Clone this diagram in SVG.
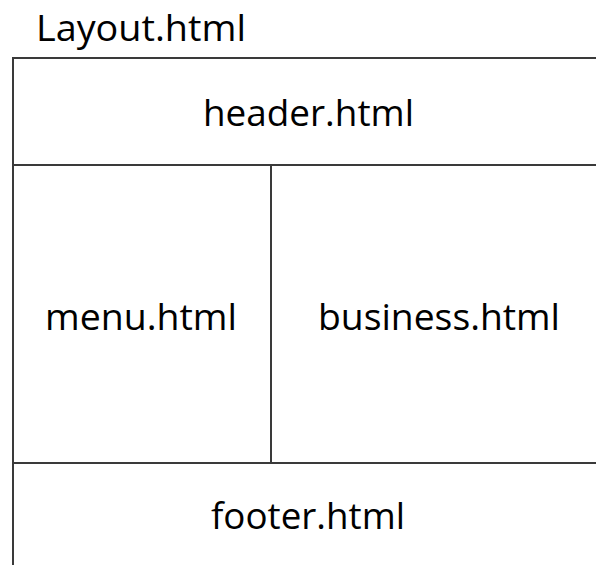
<svg xmlns="http://www.w3.org/2000/svg" width="596" height="565" viewBox="0 0 596 565">
<style>
.t{font-family:"Open Sans","Liberation Sans",sans-serif;font-size:37px;fill:#000}
.ln{stroke:#3a3a3a;stroke-width:2;fill:none}
</style>
<rect width="596" height="565" fill="#fff"/>
<g id="layout-title"><text class="t" x="36" y="41" textLength="210" lengthAdjust="spacingAndGlyphs">Layout.html</text></g>
<g id="connectors">
<path class="ln" d="M596 58 H13 V565"/>
<path class="ln" d="M13 165 H596"/>
<path class="ln" d="M271 165 V463"/>
<path class="ln" d="M13 463 H596"/>
</g>
<g id="header"><text class="t" x="203" y="126" textLength="211" lengthAdjust="spacingAndGlyphs">header.html</text></g>
<g id="menu"><text class="t" x="45" y="330" textLength="192" lengthAdjust="spacingAndGlyphs">menu.html</text></g>
<g id="business"><text class="t" x="318" y="330" textLength="242" lengthAdjust="spacingAndGlyphs">business.html</text></g>
<g id="footer"><text class="t" x="211" y="529" textLength="194" lengthAdjust="spacingAndGlyphs">footer.html</text></g>
</svg>
